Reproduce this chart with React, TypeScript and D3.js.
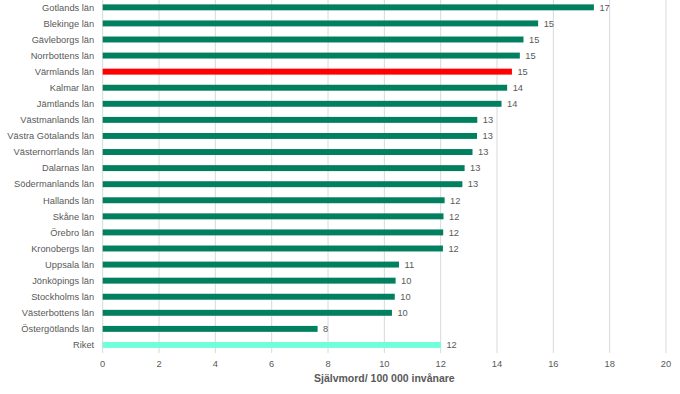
import { scaleBand, scaleLinear } from 'd3'

const regions = [
  'Gotlands län',
  'Blekinge län',
  'Gävleborgs län',
  'Norrbottens län',
  'Värmlands län',
  'Kalmar län',
  'Jämtlands län',
  'Västmanlands län',
  'Västra Götalands län',
  'Västernorrlands län',
  'Dalarnas län',
  'Södermanlands län',
  'Hallands län',
  'Skåne län',
  'Örebro län',
  'Kronobergs län',
  'Uppsala län',
  'Jönköpings län',
  'Stockholms län',
  'Västerbottens län',
  'Östergötlands län',
  'Riket',
]

const rates = [
  17.44, 15.46, 14.94, 14.81, 14.53, 14.36, 14.16, 13.3, 13.29, 13.13, 12.85,
  12.77, 12.14, 12.1, 12.09, 12.08, 10.52, 10.4, 10.37, 10.27, 7.63, 12.01,
]

const xTicks = [0, 2, 4, 6, 8, 10, 12, 14, 16, 18, 20]

const highlightRegion = 'Värmlands län'
const totalRegion = 'Riket'

const width = 680
const height = 394

const plot = {
  left: 102.7,
  right: 666,
  top: -0.7,
  bottom: 353,
}

const font = '"Liberation Sans", Arial, sans-serif'
const textColor = '#595959'

function barColor(region: string) {
  if (region === highlightRegion) return '#ff0000'
  if (region === totalRegion) return '#6fffdc'
  return '#00805f'
}

export default function App() {
  const xScale = scaleLinear().domain([0, 20]).range([plot.left, plot.right])

  const yScale = scaleBand<string>()
    .domain(regions)
    .range([plot.top, plot.bottom])
    .paddingInner(0.63)
    .paddingOuter(0.315)

  return (
    <svg
      width={width}
      height={height}
      viewBox={`0 0 ${width} ${height}`}
      style={{ position: 'absolute', left: 0, top: 0, background: '#fff' }}
      fontFamily={font}
    >
      {xTicks.map((tick) => (
        <line
          key={`${tick}-grid`}
          x1={xScale(tick)}
          x2={xScale(tick)}
          y1={0}
          y2={plot.bottom}
          stroke="#d9d9d9"
          strokeWidth={1}
        />
      ))}

      {regions.map((region, index) => {
        const y = yScale(region) ?? 0
        const value = rates[index]
        return (
          <g key={region}>
            <rect
              x={xScale(0)}
              y={y}
              width={xScale(value) - xScale(0)}
              height={yScale.bandwidth()}
              fill={barColor(region)}
            />
            <text
              x={xScale(0) - 8.5}
              y={y + yScale.bandwidth() / 2}
              dy="0.35em"
              textAnchor="end"
              fontSize={9.3}
              fill={textColor}
            >
              {region}
            </text>
            <text
              x={xScale(value) + 5.5}
              y={y + yScale.bandwidth() / 2}
              dy="0.35em"
              fontSize={9.3}
              fill={textColor}
            >
              {Math.round(value)}
            </text>
          </g>
        )
      })}

      {xTicks.map((tick) => (
        <text
          key={`${tick}-label`}
          x={xScale(tick)}
          y={364}
          dy="0.35em"
          textAnchor="middle"
          fontSize={9.3}
          fill={textColor}
        >
          {tick}
        </text>
      ))}

      <text
        x={(plot.left + plot.right) / 2}
        y={378.5}
        dy="0.35em"
        textAnchor="middle"
        fontSize={10.5}
        fontWeight="bold"
        fill={textColor}
      >
        Självmord/ 100 000 invånare
      </text>
    </svg>
  )
}
